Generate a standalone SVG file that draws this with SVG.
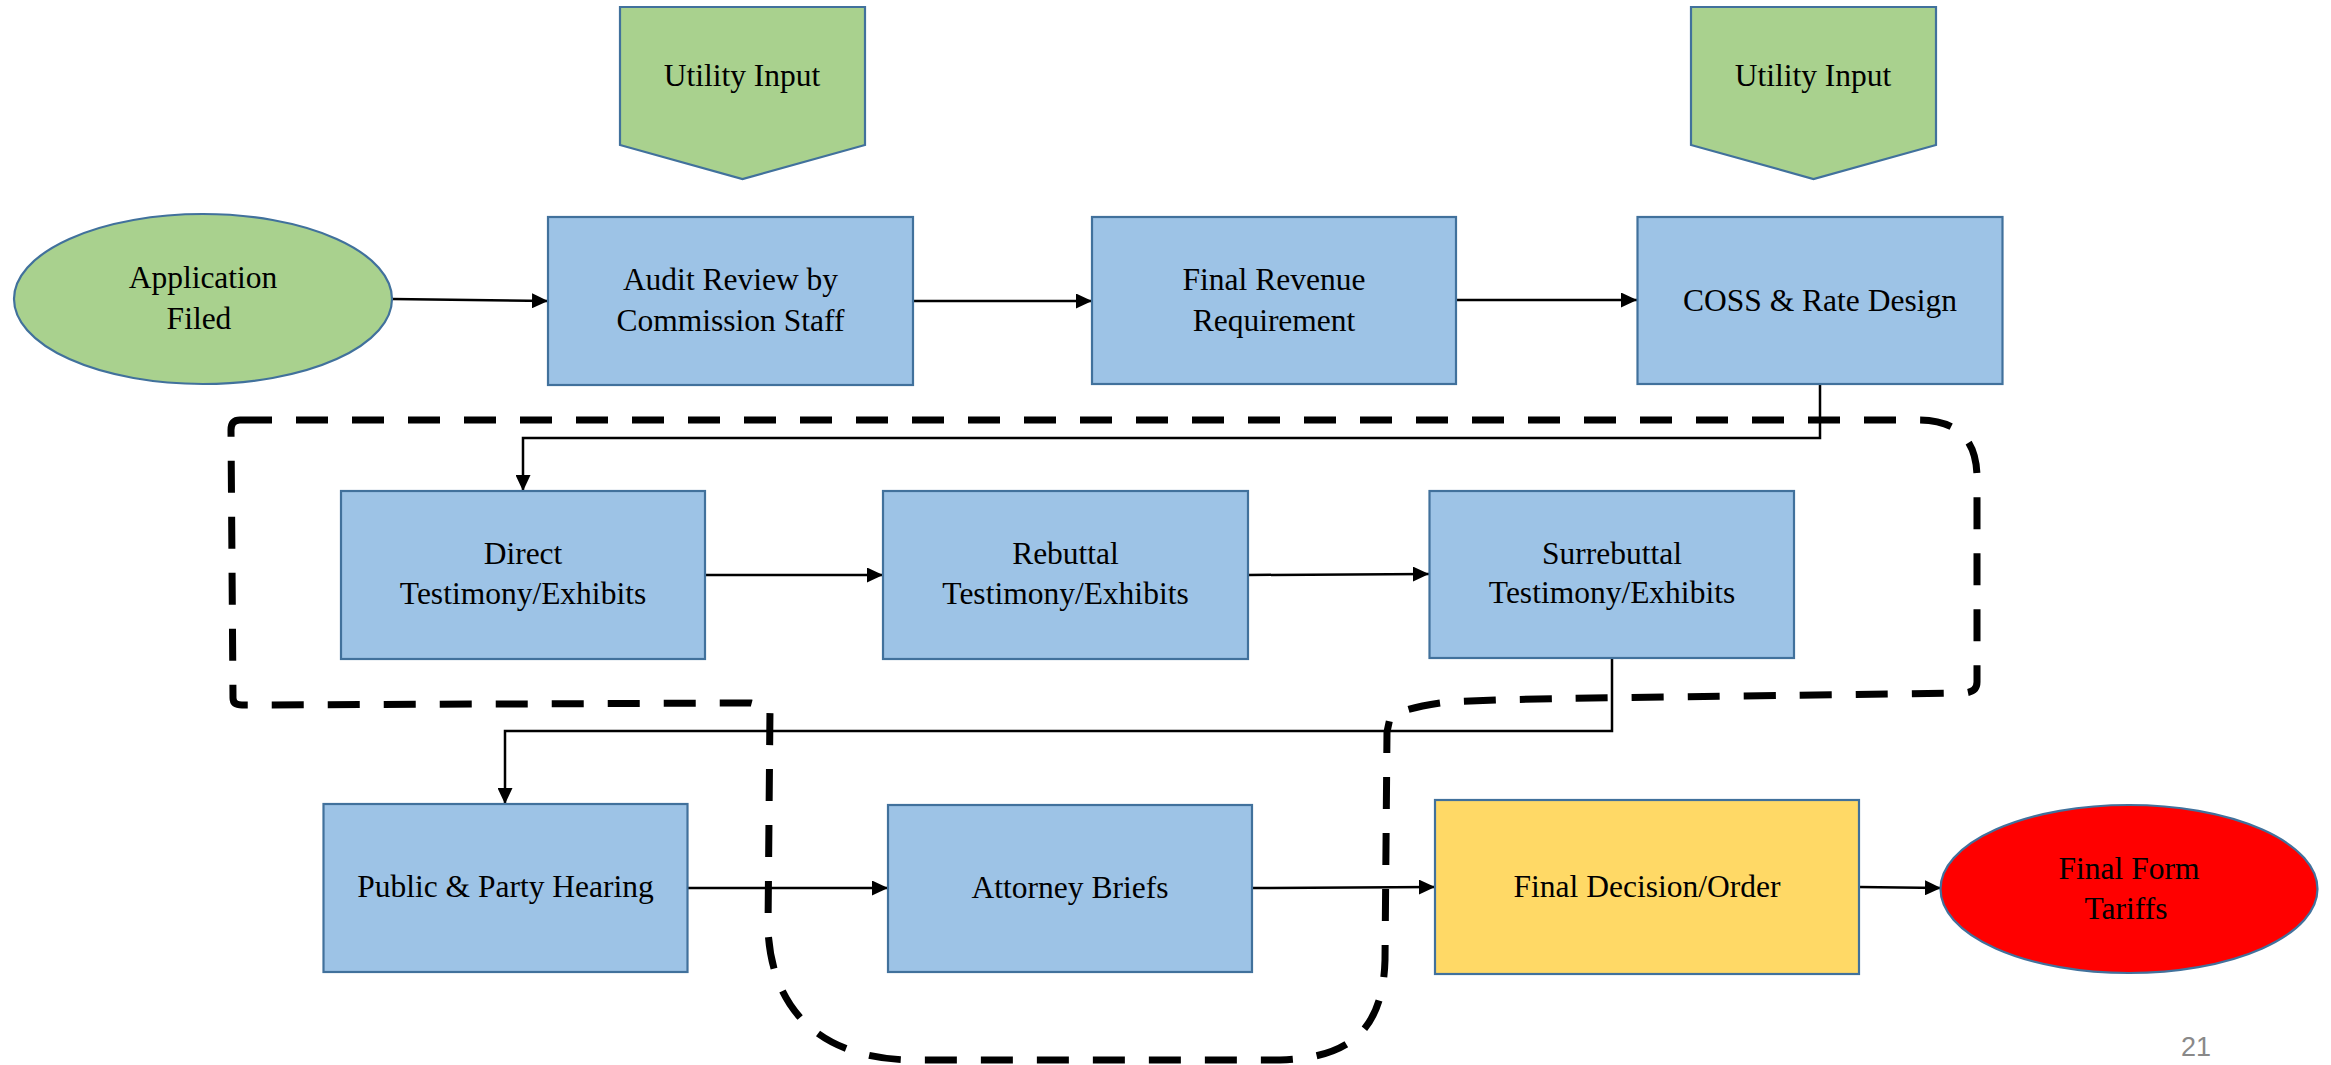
<svg xmlns="http://www.w3.org/2000/svg" width="2331" height="1065" viewBox="0 0 2331 1065">
<defs>
<style>
.box{fill:#9DC3E6;stroke:#41719C;stroke-width:2.2}
.green{fill:#A9D18E;stroke:#41719C;stroke-width:2.2}
.yellow{fill:#FFD966;stroke:#41719C;stroke-width:2.2}
.red{fill:#FF0000;stroke:#41719C;stroke-width:2.2}
.t{font-family:"Liberation Serif","Times New Roman",serif;font-size:31.5px;fill:#000;text-anchor:middle}
.c{fill:none;stroke:#000;stroke-width:2.5}
.dash{fill:none;stroke:#000;stroke-width:7;stroke-dasharray:32 24}
.pg{font-family:"Liberation Sans",Arial,sans-serif;font-size:27px;fill:#898989;text-anchor:middle}
</style>
<marker id="arr" markerUnits="userSpaceOnUse" markerWidth="16" markerHeight="15" refX="16" refY="7.5" orient="auto">
<path d="M0,0 L16,7.5 L0,15 Z" fill="#000"/>
</marker>
</defs>
<rect width="2331" height="1065" fill="#fff"/>

<g id="group-outline">
<path class="dash" d="M240 420 L1918 420 C1958 420 1977 440 1977 478 L1977 682 Q1977 693 1962 693 C1700 697 1480 698 1440 703 Q1400 709 1390 718 L1387 732 L1385 960 C1383 1030 1350 1058 1280 1060 L910 1060 C820 1058 772 1010 768 930 L770 708 L751 703 L242 705 Q233 705 233 698 L231 430 Q231 420 240 420 Z"/>
</g>

<g id="connectors">
<line class="c" x1="392" y1="299" x2="548" y2="301" marker-end="url(#arr)"/>
<line class="c" x1="913" y1="301" x2="1092" y2="301" marker-end="url(#arr)"/>
<line class="c" x1="1456" y1="300" x2="1637" y2="300" marker-end="url(#arr)"/>
<polyline class="c" points="1820,384 1820,438 523,438 523,491" marker-end="url(#arr)"/>
<line class="c" x1="705" y1="575" x2="883" y2="575" marker-end="url(#arr)"/>
<line class="c" x1="1248" y1="575" x2="1429" y2="574" marker-end="url(#arr)"/>
<polyline class="c" points="1612,658 1612,731 505,731 505,804" marker-end="url(#arr)"/>
<line class="c" x1="687" y1="888" x2="888" y2="888" marker-end="url(#arr)"/>
<line class="c" x1="1252" y1="888" x2="1435" y2="887" marker-end="url(#arr)"/>
<line class="c" x1="1859" y1="887" x2="1941" y2="888" marker-end="url(#arr)"/>
</g>

<g id="utility-input-1">
<path class="green" d="M620 7 L865 7 L865 145 L742.5 179 L620 145 Z"/>
<text class="t" x="742" y="86">Utility Input</text>
</g>
<g id="utility-input-2">
<path class="green" d="M1691 7 L1936 7 L1936 145 L1813.5 179 L1691 145 Z"/>
<text class="t" x="1813" y="86">Utility Input</text>
</g>

<g id="application-filed">
<ellipse class="green" cx="203" cy="299" rx="189" ry="85"/>
<text class="t" x="203" y="288">Application</text>
<text class="t" x="199" y="329">Filed</text>
</g>

<g id="audit-review">
<rect class="box" x="548" y="217" width="365" height="168"/>
<text class="t" x="730.5" y="290">Audit Review by</text>
<text class="t" x="730.5" y="331">Commission Staff</text>
</g>

<g id="final-revenue">
<rect class="box" x="1092" y="217" width="364" height="167"/>
<text class="t" x="1274" y="290">Final Revenue</text>
<text class="t" x="1274" y="331">Requirement</text>
</g>

<g id="coss">
<rect class="box" x="1637.5" y="217" width="365" height="167"/>
<text class="t" x="1820" y="311">COSS &amp; Rate Design</text>
</g>

<g id="direct">
<rect class="box" x="341" y="491" width="364" height="168"/>
<text class="t" x="523" y="564">Direct</text>
<text class="t" x="523" y="604">Testimony/Exhibits</text>
</g>

<g id="rebuttal">
<rect class="box" x="883" y="491" width="365" height="168"/>
<text class="t" x="1065.5" y="564">Rebuttal</text>
<text class="t" x="1065.5" y="604">Testimony/Exhibits</text>
</g>

<g id="surrebuttal">
<rect class="box" x="1429.5" y="491" width="364.5" height="167"/>
<text class="t" x="1612" y="564">Surrebuttal</text>
<text class="t" x="1612" y="603">Testimony/Exhibits</text>
</g>

<g id="public-hearing">
<rect class="box" x="323.5" y="804" width="364" height="168"/>
<text class="t" x="505.5" y="897">Public &amp; Party Hearing</text>
</g>

<g id="attorney-briefs">
<rect class="box" x="888" y="805" width="364" height="167"/>
<text class="t" x="1070" y="898">Attorney Briefs</text>
</g>

<g id="final-decision">
<rect class="yellow" x="1435" y="800" width="424" height="174"/>
<text class="t" x="1647" y="897">Final Decision/Order</text>
</g>

<g id="final-form-tariffs">
<ellipse class="red" cx="2129" cy="889" rx="188.5" ry="84"/>
<text class="t" x="2129" y="879">Final Form</text>
<text class="t" x="2126" y="919">Tariffs</text>
</g>

<text class="pg" x="2196" y="1056">21</text>
</svg>
